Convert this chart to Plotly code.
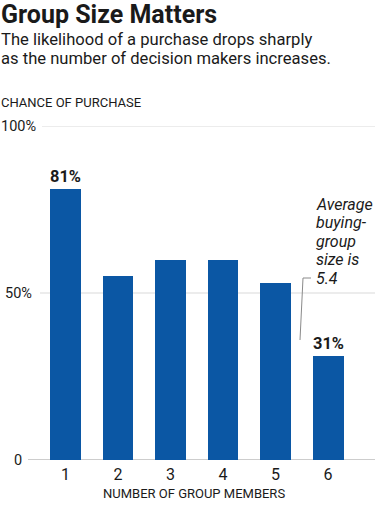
import plotly.graph_objects as go

# Data
group_sizes = [1, 2, 3, 4, 5, 6]
purchase_chance = [81, 55, 60, 60, 53, 31]
bar_labels = ["81%", "", "", "", "", "31%"]
y_tick_vals = [0, 50, 100]
y_tick_text = ["0", "50%", "100%"]
x_tick_text = ["1", "2", "3", "4", "5", "6"]

title_text = "Group Size Matters"
subtitle_lines = ["The likelihood of a purchase drops sharply",
                  "as the number of decision makers increases."]
y_title = "CHANCE OF PURCHASE"
x_title = "NUMBER OF GROUP MEMBERS"
note_lines = ["Average", "buying-", "group", "size is", "5.4"]

FONT = "Roboto"
TXT = "#1a1a1a"
BLUE = "#0B57A4"

W, H = 375, 506
ML, MR, MT, MB = 28, 0, 126, 46
PW = W - ML - MR
PH = H - MT - MB


def px_x(p):
    return (p - ML) / PW


def px_y(p):
    return (H - MB - p) / PH


fig = go.Figure()
fig.add_trace(go.Bar(
    x=group_sizes, y=purchase_chance, width=0.59,
    marker=dict(color=BLUE, line=dict(width=0)),
    text=bar_labels, textposition="outside", cliponaxis=False,
    textfont=dict(family=FONT, size=16.5, color=TXT, weight="bold"),
    hoverinfo="skip",
))

shapes = []
grid_starts = {0: 28, 50: 40, 100: 42}
for v in y_tick_vals:
    shapes.append(dict(type="line", xref="paper", yref="y",
                       x0=px_x(grid_starts[v]), x1=1, y0=v, y1=v,
                       line=dict(color="#9a9a9a" if v == 0 else "#d9d9d9", width=1),
                       layer="below"))
# leader line for annotation
shapes.append(dict(type="path", xref="paper", yref="paper",
                   path=f"M {px_x(311)} {px_y(278)} L {px_x(303)} {px_y(278)} L {px_x(300)} {px_y(340)}",
                   line=dict(color="#8a8a8a", width=1)))

annotations = []
for v, t in zip(y_tick_vals, y_tick_text):
    annotations.append(dict(xref="paper", yref="y", x=px_x(18), y=v, text=t,
                            showarrow=False, xanchor="center", yanchor="middle",
                            font=dict(family=FONT, size=14.5, color=TXT)))

annotations += [
    dict(xref="paper", yref="paper", x=px_x(-1), y=px_y(14), text=f"<b>{title_text}</b>",
         showarrow=False, xanchor="left", yanchor="middle",
         font=dict(family=FONT, size=25, color=TXT)),
    dict(xref="paper", yref="paper", x=px_x(-1), y=px_y(28), text=subtitle_lines[0],
         showarrow=False, xanchor="left", yanchor="top",
         font=dict(family=FONT, size=16.6, color=TXT)),
    dict(xref="paper", yref="paper", x=px_x(-1), y=px_y(47), text=subtitle_lines[1],
         showarrow=False, xanchor="left", yanchor="top",
         font=dict(family=FONT, size=16.6, color=TXT)),
    dict(xref="paper", yref="paper", x=px_x(-1), y=px_y(93), text=y_title,
         showarrow=False, xanchor="left", yanchor="top",
         font=dict(family=FONT, size=13, color=TXT)),
    dict(xref="paper", yref="paper", x=px_x(194), y=px_y(493), text=x_title,
         showarrow=False, xanchor="center", yanchor="middle",
         font=dict(family=FONT, size=13, color=TXT)),
]
for i, line in enumerate(note_lines):
    annotations.append(dict(xref="paper", yref="paper", x=px_x(314), y=px_y(204 + 18.5 * i),
                            text=f"<i>{line}</i>", showarrow=False,
                            xanchor="left", yanchor="middle", align="left",
                            font=dict(family=FONT, size=16, color=TXT)))

fig.update_layout(
    width=W, height=H,
    margin=dict(l=ML, r=MR, t=MT, b=MB, pad=0),
    paper_bgcolor="white", plot_bgcolor="white",
    showlegend=False, bargap=0,
    xaxis=dict(range=[0.286, 6.895], tickvals=group_sizes, ticktext=x_tick_text,
               showgrid=False, zeroline=False, showline=False, ticks="",
               ticklabelstandoff=3,
               tickfont=dict(family=FONT, size=16, color=TXT), fixedrange=True),
    yaxis=dict(range=[0, 100], showgrid=False, zeroline=False, showline=False,
               showticklabels=False, ticks="", fixedrange=True),
    shapes=shapes, annotations=annotations,
)

fig.write_html("out.html", config={"displayModeBar": False},
               post_script="document.body.style.margin='0';document.body.style.overflow='hidden';")
